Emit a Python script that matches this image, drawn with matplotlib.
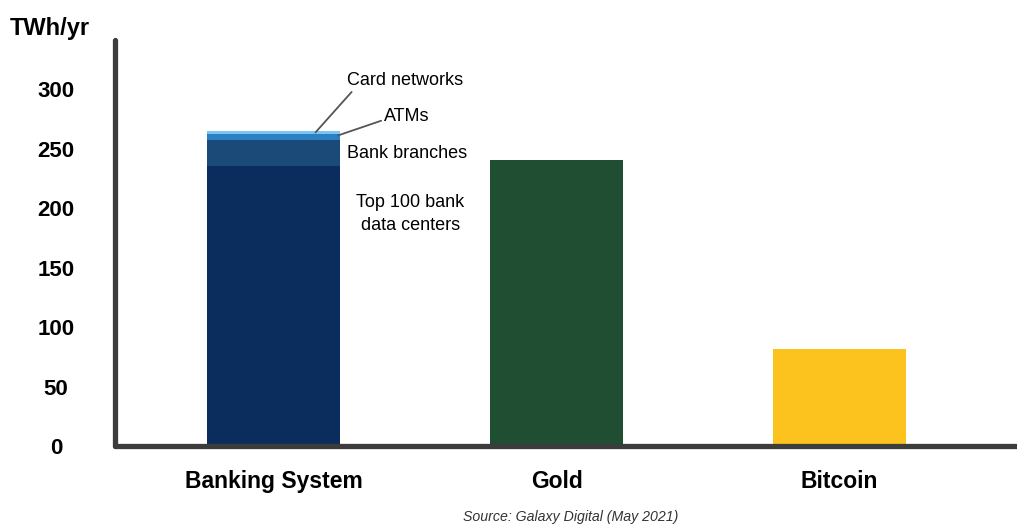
import matplotlib.pyplot as plt

# Data
categories = ["Banking System", "Gold", "Bitcoin"]
bank_parts = ["Top 100 bank\ndata centers", "Bank branches", "ATMs", "Card networks"]
bank_values = [235.5, 21.6, 5.1, 2.3]
gold_value = 240.6
bitcoin_value = 81.5
y_ticks = [0, 50, 100, 150, 200, 250, 300]

bank_colors = ["#0a2d5e", "#1c4a78", "#2b7fc3", "#7cc5f2"]
gold_color = "#1f4e32"
btc_color = "#fcc21e"
axis_color = "#3c3c3c"

plt.rcParams["font.family"] = ["Liberation Sans", "DejaVu Sans"]

fig = plt.figure(figsize=(10.17, 5.24), dpi=100)
W, H = 1017, 524
ax = fig.add_axes([114.5 / W, (H - 446) / H, (W - 114.5) / W, 406 / H])

bar_w = 0.47
bottom = 0
for val, col in zip(bank_values, bank_colors):
    ax.bar(0, val, bottom=bottom, width=bar_w, color=col, linewidth=0, zorder=2)
    bottom += val
ax.bar(1, gold_value, width=bar_w, color=gold_color, linewidth=0, zorder=2)
ax.bar(2, bitcoin_value, width=bar_w, color=btc_color, linewidth=0, zorder=2)

ax.set_xlim(-0.562, 2.627)
ax.set_ylim(0, 341.2)

for s in ["top", "right"]:
    ax.spines[s].set_visible(False)
for s in ["left", "bottom"]:
    ax.spines[s].set_color(axis_color)
    ax.spines[s].set_linewidth(3.8)
    ax.spines[s].set_capstyle("round")
    ax.spines[s].set_zorder(3)

ax.set_yticks(y_ticks)
ax.set_yticklabels([str(t) for t in y_ticks], fontsize=16, fontweight="bold")
ax.tick_params(axis="y", length=0, pad=42)
for lab in ax.get_yticklabels():
    lab.set_ha("center")

ax.set_xticks(range(len(categories)))
ax.set_xticklabels(categories, fontsize=16.5, fontweight="bold")
ax.tick_params(axis="x", length=0, pad=17.5)

fig.text(10 / W, 1 - 28 / H, "TWh/yr", fontsize=17, fontweight="bold",
         ha="left", va="center")

# Segment labels
tot = sum(bank_values)
ax.annotate("Card networks", xy=(0.148, tot - 1.0), xytext=(0.26, 307),
            fontsize=13, ha="left", va="center",
            arrowprops=dict(arrowstyle="-", color="#555555", lw=1.3,
                            shrinkA=0, shrinkB=0, relpos=(0.06, 0.0)))
ax.annotate("ATMs", xy=(0.228, tot - 3.5), xytext=(0.39, 277),
            fontsize=13, ha="left", va="center",
            arrowprops=dict(arrowstyle="-", color="#555555", lw=1.3,
                            shrinkA=0, shrinkB=0, relpos=(0.0, 0.3)))
ax.text(0.26, 246, "Bank branches", fontsize=13, ha="left", va="center")
ax.text(0.483, 195, "Top 100 bank\ndata centers", fontsize=13,
        ha="center", va="center", linespacing=1.5)

fig.text(571 / W, 1 - 517 / H, "Source: Galaxy Digital (May 2021)",
         fontsize=10.2, style="italic", color="#333333", ha="center", va="center")

fig.savefig("out.png", dpi=100)
